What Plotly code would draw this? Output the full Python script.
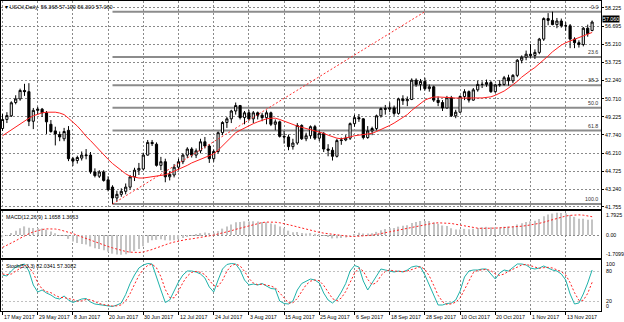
import plotly.graph_objects as go

# ---------------- data ----------------
tick_idx = [0, 8, 16, 24, 32, 40, 48, 56, 64, 72, 80, 88, 96, 104, 112, 120, 128]
tick_labels = ["17 May 2017", "29 May 2017", "8 Jun 2017", "20 Jun 2017", "30 Jun 2017",
               "12 Jul 2017", "24 Jul 2017", "3 Aug 2017", "15 Aug 2017", "25 Aug 2017",
               "6 Sep 2017", "18 Sep 2017", "28 Sep 2017", "10 Oct 2017", "20 Oct 2017",
               "1 Nov 2017", "13 Nov 2017"]

opens = [48.25, 49.00, 49.30, 50.40, 50.70, 51.40, 51.30, 48.85, 49.75, 49.85,
         49.55, 48.60, 48.05, 47.75, 47.40, 48.10, 45.75, 45.60, 45.80, 46.00,
         46.05, 44.65, 44.30, 44.65, 44.00, 43.40, 42.50, 42.80, 43.05, 43.40,
         44.25, 44.80, 44.90, 46.05, 47.10, 46.95, 45.20, 45.50, 44.25, 44.40,
         45.05, 45.50, 46.05, 46.55, 46.05, 46.40, 47.15, 46.80, 45.75, 46.35,
         47.90, 48.75, 49.05, 49.70, 50.15, 49.15, 49.55, 49.05, 49.55, 49.35,
         49.15, 49.55, 48.60, 48.80, 47.60, 47.55, 46.75, 47.05, 48.50, 47.40,
         47.65, 48.40, 47.45, 47.85, 46.55, 46.45, 45.95, 47.25, 47.30, 47.45,
         48.65, 49.15, 49.05, 47.50, 48.05, 48.25, 49.30, 49.90, 49.85, 49.95,
         49.50, 50.70, 50.55, 50.65, 52.25, 51.90, 52.15, 51.55, 51.70, 50.60,
         50.40, 49.95, 50.80, 49.30, 49.60, 50.90, 51.30, 50.60, 51.45, 51.90,
         51.90, 52.05, 51.30, 51.85, 51.90, 52.45, 52.20, 52.65, 53.90, 54.15,
         54.40, 54.30, 54.55, 55.65, 57.35, 57.20, 56.85, 57.15, 56.75, 56.75,
         55.65, 55.35, 55.20, 56.55, 56.368]
highs = [49.45, 49.60, 50.50, 51.00, 51.55, 51.95, 52.00, 49.95, 50.05, 49.95,
         49.70, 48.95, 48.40, 48.00, 48.30, 48.45, 45.90, 46.00, 46.35, 46.55,
         46.30, 44.95, 44.80, 44.80, 44.30, 43.55, 43.10, 43.30, 43.70, 44.40,
         45.00, 45.40, 46.25, 47.30, 47.30, 47.10, 45.90, 45.75, 44.70, 45.30,
         45.75, 46.20, 46.70, 46.70, 46.60, 47.40, 47.55, 46.95, 46.50, 48.00,
         48.85, 49.20, 49.80, 50.40, 50.20, 49.70, 49.80, 49.70, 49.65, 49.55,
         49.75, 49.65, 49.00, 48.90, 48.05, 47.75, 47.40, 48.70, 48.60, 47.90,
         48.50, 48.55, 48.10, 47.95, 46.95, 46.70, 47.40, 47.50, 47.70, 48.75,
         49.40, 49.45, 49.10, 48.45, 48.40, 49.40, 50.00, 50.20, 50.40, 50.15,
         50.80, 51.00, 50.90, 52.40, 52.40, 52.35, 52.45, 51.90, 51.80, 50.90,
         50.60, 50.95, 50.95, 49.80, 51.00, 51.50, 51.40, 51.60, 52.20, 52.15,
         52.30, 52.20, 51.95, 52.25, 52.60, 52.70, 52.75, 54.00, 54.30, 54.70,
         55.25, 54.80, 55.75, 57.45, 57.80, 57.92, 57.40, 57.35, 57.05, 56.90,
         55.80, 55.55, 56.65, 56.85, 57.19]
lows = [48.05, 48.70, 49.20, 50.25, 50.55, 50.95, 48.45, 48.20, 49.40, 49.20,
        47.80, 47.90, 46.85, 47.20, 47.20, 45.55, 45.15, 45.35, 45.60, 45.70,
        44.50, 44.20, 44.15, 43.85, 43.05, 42.00, 42.20, 42.60, 42.80, 43.20,
        43.90, 44.40, 44.80, 46.00, 46.80, 45.10, 44.80, 43.80, 43.95, 44.20,
        44.80, 45.30, 45.80, 45.85, 45.80, 46.20, 46.60, 45.40, 45.50, 46.20,
        47.70, 48.30, 48.70, 49.40, 49.00, 48.60, 48.90, 48.70, 49.00, 48.85,
        48.60, 48.45, 48.10, 47.50, 47.00, 46.45, 46.50, 46.90, 47.30, 47.20,
        47.40, 47.30, 47.20, 46.30, 45.95, 45.60, 45.85, 46.90, 47.20, 47.30,
        48.40, 48.80, 47.35, 47.40, 47.70, 48.10, 49.15, 49.40, 49.60, 49.30,
        49.40, 50.20, 50.10, 50.60, 51.70, 51.40, 51.40, 51.30, 50.45, 50.10,
        49.70, 49.90, 49.20, 49.10, 49.55, 50.60, 50.40, 50.55, 51.30, 51.60,
        51.70, 51.20, 51.20, 51.70, 51.80, 51.80, 52.00, 52.50, 53.65, 53.90,
        54.10, 54.00, 54.40, 55.50, 56.80, 56.80, 56.55, 56.60, 56.35, 54.90,
        54.90, 54.95, 55.05, 55.85, 56.30]
closes = [49.00, 49.32, 50.38, 50.70, 51.40, 51.30, 48.85, 49.75, 49.85, 49.55,
          48.80, 48.00, 47.80, 47.55, 48.00, 45.75, 45.55, 45.85, 46.05, 46.05,
          44.65, 44.35, 44.65, 43.95, 43.20, 42.50, 42.80, 43.05, 43.40, 44.25,
          44.80, 44.95, 46.05, 47.10, 47.00, 45.20, 45.50, 44.25, 44.45, 45.05,
          45.50, 46.05, 46.55, 46.05, 46.40, 47.15, 46.80, 45.75, 46.35, 47.90,
          48.75, 49.05, 49.70, 50.15, 49.15, 49.55, 49.05, 49.55, 49.35, 49.15,
          49.55, 48.60, 48.80, 47.60, 47.55, 46.75, 47.05, 48.50, 47.40, 47.65,
          48.40, 47.45, 47.85, 46.55, 46.45, 45.95, 47.25, 47.30, 47.45, 48.65,
          49.15, 49.05, 47.50, 48.05, 48.25, 49.30, 49.90, 49.85, 49.95, 49.50,
          50.70, 50.55, 50.65, 52.25, 51.90, 52.15, 51.55, 51.70, 50.60, 50.40,
          49.95, 50.80, 49.30, 49.60, 50.90, 51.30, 50.60, 51.45, 51.90, 51.90,
          52.05, 51.30, 51.85, 51.90, 52.45, 52.20, 52.65, 53.90, 54.15, 54.40,
          54.30, 54.55, 55.65, 57.35, 57.20, 56.85, 57.15, 56.75, 56.75, 55.65,
          55.35, 55.20, 56.55, 56.10, 57.06]

moving_avg = [47.65, 47.90, 48.15, 48.40, 48.65, 48.90, 49.10, 49.30, 49.45, 49.55,
              49.60, 49.62, 49.60, 49.53, 49.40, 49.10, 48.80, 48.45, 48.05, 47.60,
              47.25, 46.85, 46.50, 46.10, 45.70, 45.35, 45.05, 44.75, 44.50, 44.30,
              44.20, 44.15, 44.15, 44.20, 44.27, 44.33, 44.38, 44.42, 44.55, 44.70,
              44.85, 45.00, 45.20, 45.40, 45.55, 45.70, 45.85, 45.95, 46.15, 46.45,
              46.80, 47.15, 47.55, 47.90, 48.10, 48.30, 48.50, 48.65, 48.80, 48.95,
              49.05, 49.10, 49.10, 49.00, 48.85, 48.70, 48.55, 48.45, 48.35, 48.25,
              48.15, 48.05, 48.00, 47.85, 47.70, 47.55, 47.45, 47.40, 47.45, 47.55,
              47.65, 47.70, 47.70, 47.75, 47.85, 48.00, 48.15, 48.30, 48.50, 48.70,
              48.95, 49.15, 49.40, 49.75, 50.05, 50.35, 50.60, 50.75, 50.85, 50.86,
              50.86, 50.85, 50.80, 50.77, 50.76, 50.76, 50.77, 50.77, 50.78, 50.78,
              50.80, 50.87, 51.00, 51.15, 51.35, 51.60, 51.85, 52.15, 52.50, 52.80,
              53.05, 53.30, 53.60, 53.90, 54.25, 54.60, 54.90, 55.15, 55.35, 55.50,
              55.65, 55.80, 55.95, 56.05, 56.20]

macd_main = [-0.167, -0.035, 0.154, 0.326, 0.512, 0.645, 0.546, 0.534, 0.527, 0.491,
             0.398, 0.257, 0.127, 0.004, -0.057, -0.284, -0.474, -0.593, -0.664, -0.711,
             -0.852, -0.977, -1.040, -1.133, -1.253, -1.388, -1.455, -1.471, -1.438, -1.328,
             -1.183, -1.044, -0.835, -0.579, -0.380, -0.363, -0.322, -0.385, -0.415, -0.385,
             -0.321, -0.223, -0.104, -0.049, 0.022, 0.137, 0.197, 0.159, 0.175, 0.309,
             0.479, 0.630, 0.793, 0.947, 0.977, 1.022, 1.005, 1.021, 1.005, 0.966,
             0.956, 0.861, 0.793, 0.635, 0.501, 0.325, 0.208, 0.229, 0.155, 0.115,
             0.143, 0.087, 0.075, -0.039, -0.136, -0.250, -0.234, -0.214, -0.184, -0.063,
             0.073, 0.170, 0.120, 0.124, 0.142, 0.238, 0.358, 0.444, 0.514, 0.528,
             0.628, 0.687, 0.733, 0.889, 0.973, 1.047, 1.045, 1.044, 0.944, 0.839,
             0.711, 0.671, 0.512, 0.406, 0.422, 0.461, 0.430, 0.469, 0.530, 0.572,
             0.611, 0.574, 0.582, 0.586, 0.627, 0.631, 0.663, 0.780, 0.883, 0.973,
             1.025, 1.074, 1.188, 1.399, 1.537, 1.599, 1.654, 1.646, 1.621, 1.495,
             1.356, 1.219, 1.205, 1.145, 1.166]
macd_signal = [-0.924, -0.778, -0.608, -0.427, -0.239, -0.054, 0.101, 0.233, 0.338, 0.411,
               0.459, 0.471, 0.449, 0.392, 0.314, 0.222, 0.110, -0.015, -0.143, -0.266,
               -0.389, -0.512, -0.628, -0.748, -0.855, -0.957, -1.053, -1.142, -1.223, -1.276,
               -1.299, -1.299, -1.266, -1.191, -1.079, -0.958, -0.830, -0.713, -0.612, -0.523,
               -0.443, -0.375, -0.322, -0.285, -0.242, -0.191, -0.127, -0.063, -0.001, 0.069,
               0.147, 0.229, 0.322, 0.425, 0.518, 0.610, 0.704, 0.798, 0.875, 0.930,
               0.966, 0.973, 0.956, 0.918, 0.860, 0.785, 0.694, 0.608, 0.518, 0.425,
               0.345, 0.266, 0.204, 0.144, 0.093, 0.042, -0.009, -0.050, -0.084, -0.106,
               -0.108, -0.097, -0.080, -0.051, -0.007, 0.045, 0.109, 0.178, 0.243, 0.293,
               0.344, 0.407, 0.475, 0.558, 0.639, 0.716, 0.783, 0.842, 0.888, 0.911,
               0.914, 0.907, 0.865, 0.802, 0.733, 0.668, 0.600, 0.547, 0.512, 0.497,
               0.490, 0.497, 0.517, 0.535, 0.553, 0.576, 0.597, 0.625, 0.660, 0.700,
               0.750, 0.805, 0.872, 0.957, 1.058, 1.162, 1.259, 1.344, 1.416, 1.468,
               1.499, 1.503, 1.481, 1.438, 1.366]

stoch_k = [72, 70, 80, 88, 91, 94, 80, 52, 38, 42,
           36, 32, 26, 24, 30, 22, 17, 20, 24, 25,
           18, 14, 13, 11, 10, 9, 12, 16, 33, 55,
           72, 86, 92, 95, 94, 70, 42, 17, 22, 40,
           58, 72, 80, 80, 78, 74, 66, 48, 38, 62,
           84, 93, 95, 94, 82, 62, 52, 54, 52, 55,
           50, 45, 44, 20, 15, 14, 20, 42, 55, 60,
           64, 62, 56, 36, 22, 16, 24, 38, 55, 80,
           91, 88, 60, 42, 56, 72, 84, 82, 80, 78,
           80, 78, 82, 88, 90, 88, 72, 50, 32, 12,
           12, 15, 16, 22, 40, 68, 80, 82, 82, 84,
           84, 74, 64, 76, 82, 80, 88, 94, 94, 92,
           86, 84, 86, 90, 86, 82, 80, 74, 62, 34,
           14, 16, 34, 56, 82.03]
stoch_d = [74.0, 72.7, 74.0, 79.3, 86.3, 91.0, 88.3, 75.3, 56.7, 44.0,
           38.7, 36.7, 31.3, 27.3, 26.7, 25.3, 23.0, 19.7, 20.3, 23.0,
           22.3, 19.0, 15.0, 12.7, 11.3, 10.0, 10.3, 12.3, 20.3, 34.7,
           53.3, 71.0, 83.3, 91.0, 93.7, 86.3, 68.7, 43.0, 27.0, 26.3,
           40.0, 56.7, 70.0, 77.3, 79.3, 77.3, 72.7, 62.7, 50.7, 49.3,
           61.3, 79.7, 90.7, 94.0, 90.3, 79.3, 65.3, 56.0, 52.7, 53.7,
           52.3, 50.0, 46.3, 36.3, 26.3, 16.3, 16.3, 25.3, 39.0, 52.3,
           59.7, 62.0, 60.7, 51.3, 38.0, 24.7, 20.7, 26.0, 39.0, 57.7,
           75.3, 86.3, 79.7, 63.3, 52.7, 56.7, 70.7, 79.3, 82.0, 80.0,
           79.3, 78.7, 80.0, 82.7, 86.7, 88.7, 83.3, 70.0, 51.3, 31.3,
           18.7, 13.0, 14.3, 17.7, 26.0, 43.3, 62.7, 76.7, 81.3, 82.7,
           83.3, 80.7, 74.0, 71.3, 74.0, 79.3, 83.3, 87.3, 92.0, 93.3,
           90.7, 87.3, 85.3, 86.7, 87.3, 86.0, 82.7, 78.7, 72.0, 56.7,
           36.7, 21.3, 21.3, 35.3, 57.31]

price_ticks = [58.225, 56.695, 55.210, 53.725, 52.240, 50.710, 49.225, 47.740,
               46.210, 44.725, 43.240, 41.755]
price_tick_text = ["58.225", "56.695", "55.210", "53.725", "52.240", "50.710", "49.225",
                   "47.740", "46.210", "44.725", "43.240", "41.755"]

# Fibonacci retracement drawn from the June low to the November high
fib_levels = [0.0, 23.6, 38.2, 50.0, 61.8, 100.0]
fib_low, fib_high = 42.00, 57.92
fib_start, fib_end = 25, 96

# ---------------- styling ----------------
FONT = "Liberation Sans"
GRID = "#8a8a8a"
X_RANGE = [-0.34, 136.02]
n = len(closes)
xs = list(range(n))

fig = go.Figure()

# price candles
fig.add_trace(go.Candlestick(
    x=xs, open=opens, high=highs, low=lows, close=closes,
    increasing=dict(line=dict(color="#000000", width=1), fillcolor="#ffffff"),
    decreasing=dict(line=dict(color="#000000", width=1), fillcolor="#000000"),
    whiskerwidth=0, showlegend=False, hoverinfo="skip", xaxis="x", yaxis="y"))

# moving average
fig.add_trace(go.Scatter(x=xs, y=moving_avg, mode="lines",
                         line=dict(color="#ff2020", width=1),
                         showlegend=False, hoverinfo="skip", xaxis="x", yaxis="y"))

# fibonacci trend line
fig.add_trace(go.Scatter(x=[fib_start, fib_end], y=[fib_low, fib_high], mode="lines",
                         line=dict(color="#ff3030", width=1, dash="2px,2px"),
                         showlegend=False, hoverinfo="skip", xaxis="x", yaxis="y"))

# MACD histogram + signal
fig.add_trace(go.Bar(x=xs, y=macd_main, width=0.28, marker=dict(color="#c4c4c4", line=dict(width=0)),
                     showlegend=False, hoverinfo="skip", xaxis="x2", yaxis="y2"))
fig.add_trace(go.Scatter(x=xs, y=macd_signal, mode="lines",
                         line=dict(color="#ff2020", width=1, dash="2px,2px"),
                         showlegend=False, hoverinfo="skip", xaxis="x2", yaxis="y2"))

# Stochastic
fig.add_trace(go.Scatter(x=xs, y=stoch_k, mode="lines",
                         line=dict(color="#20b2aa", width=1),
                         showlegend=False, hoverinfo="skip", xaxis="x3", yaxis="y3"))
fig.add_trace(go.Scatter(x=xs, y=stoch_d, mode="lines",
                         line=dict(color="#ff2020", width=1, dash="2px,2px"),
                         showlegend=False, hoverinfo="skip", xaxis="x3", yaxis="y3"))

shapes = []
annotations = []
fib_range = fib_high - fib_low
for lvl in fib_levels:
    p = fib_high - fib_range * lvl / 100.0
    shapes.append(dict(type="line", xref="x", yref="y", x0=fib_start, x1=X_RANGE[1],
                       y0=p, y1=p, line=dict(color="#8c8c8c", width=2), layer="below"))
    annotations.append(dict(xref="x", yref="y", x=135.9, y=p, text=f"{lvl:.1f}",
                            showarrow=False, xanchor="right", yanchor="bottom",
                            font=dict(family=FONT, size=5.3, color="#333333")))

axis_common = dict(range=X_RANGE, tickvals=tick_idx, showticklabels=False,
                   showgrid=True, gridcolor=GRID, griddash="2px,2px", gridwidth=1,
                   showline=True, mirror=True, linecolor="#000000", linewidth=1,
                   zeroline=False, ticks="")

fig.update_layout(
    width=624, height=322,
    margin=dict(l=1, r=23, t=1, b=11),
    paper_bgcolor="#ffffff", plot_bgcolor="#ffffff",
    showlegend=False, barmode="overlay", boxgap=0.3,
    xaxis=dict(**axis_common, anchor="y", domain=[0, 1], rangeslider=dict(visible=False)),
    xaxis2=dict(**axis_common, anchor="y2", domain=[0, 1], matches="x"),
    xaxis3=dict(**{**axis_common, "ticks": "outside"}, ticklen=3, tickcolor="#000000",
                anchor="y3", domain=[0, 1], matches="x"),
    yaxis=dict(domain=[0.329, 1.0], range=[41.586, 58.804], side="right",
               tickvals=price_ticks, ticktext=price_tick_text,
               tickfont=dict(family=FONT, size=5.3, color="#000000"),
               ticks="outside", ticklen=2, tickcolor="#000000",
               showgrid=True, gridcolor=GRID, griddash="2px,2px", gridwidth=1,
               showline=True, mirror=True, linecolor="#000000", linewidth=1,
               zeroline=False, anchor="x"),
    yaxis2=dict(domain=[0.171, 0.3226], range=[-1.7099, 1.7925], side="right",
                tickvals=[0], showticklabels=False, ticks="",
                showgrid=True, gridcolor=GRID, griddash="2px,2px", gridwidth=1,
                showline=True, mirror=True, linecolor="#000000", linewidth=1,
                zeroline=False, anchor="x2"),
    yaxis3=dict(domain=[0.0, 0.1645], range=[0, 102], side="right",
                tickvals=[20, 80], showticklabels=False, ticks="",
                showgrid=True, gridcolor="#c0c0c0", griddash="2px,2px", gridwidth=1,
                showline=True, mirror=True, linecolor="#000000", linewidth=1,
                zeroline=False, anchor="x3"),
)

small = dict(family=FONT, size=5.3, color="#000000")

# window captions
annotations.append(dict(xref="paper", yref="paper", x=0, y=1, xanchor="left", yanchor="top",
                        xshift=2, yshift=-1, showarrow=False,
                        text="\u25be USOil,Daily  56.368 57.190 56.300 57.060",
                        font=dict(family=FONT, size=5.5, color="#000000")))
annotations.append(dict(xref="paper", yref="paper", x=0, y=0.3226, xanchor="left", yanchor="top",
                        xshift=3, yshift=-1, showarrow=False,
                        text="MACD(12,26,9) 1.1658 1.3663", font=small))
annotations.append(dict(xref="paper", yref="paper", x=0, y=0.1645, xanchor="left", yanchor="top",
                        xshift=3, yshift=-1, showarrow=False,
                        text="Stoch(5,3,3) 82.0341 57.3082", font=small))

# current price marker, sitting just above the neighbouring scale label
annotations.append(dict(xref="paper", yref="y", x=1, y=closes[-1], xanchor="left", yanchor="middle",
                        xshift=1, yshift=3, showarrow=False, text=f"{closes[-1]:.3f}",
                        bgcolor="#000000", borderpad=0,
                        font=dict(family=FONT, size=5.3, color="#ffffff")))

# indicator scale labels
for val, txt in [(1.50, "1.7925"), (0.0, "0.00"), (-1.40, "-1.7099")]:
    annotations.append(dict(xref="paper", yref="y2", x=1, y=val, xanchor="left", yanchor="middle",
                            xshift=3, showarrow=False, text=txt, font=small))
for val, txt in [(94, "100"), (80, "80"), (20, "20"), (10, "0")]:
    annotations.append(dict(xref="paper", yref="y3", x=1, y=val, xanchor="left", yanchor="middle",
                            xshift=3, showarrow=False, text=txt, font=small))

# time axis labels
for pos, lab in zip(tick_idx, tick_labels):
    annotations.append(dict(xref="x3", yref="paper", x=pos, y=0, xanchor="left", yanchor="top",
                            xshift=-1, yshift=-1, showarrow=False, text=lab, font=small))

fig.update_layout(shapes=shapes, annotations=annotations)
fig.write_html("out.html")
